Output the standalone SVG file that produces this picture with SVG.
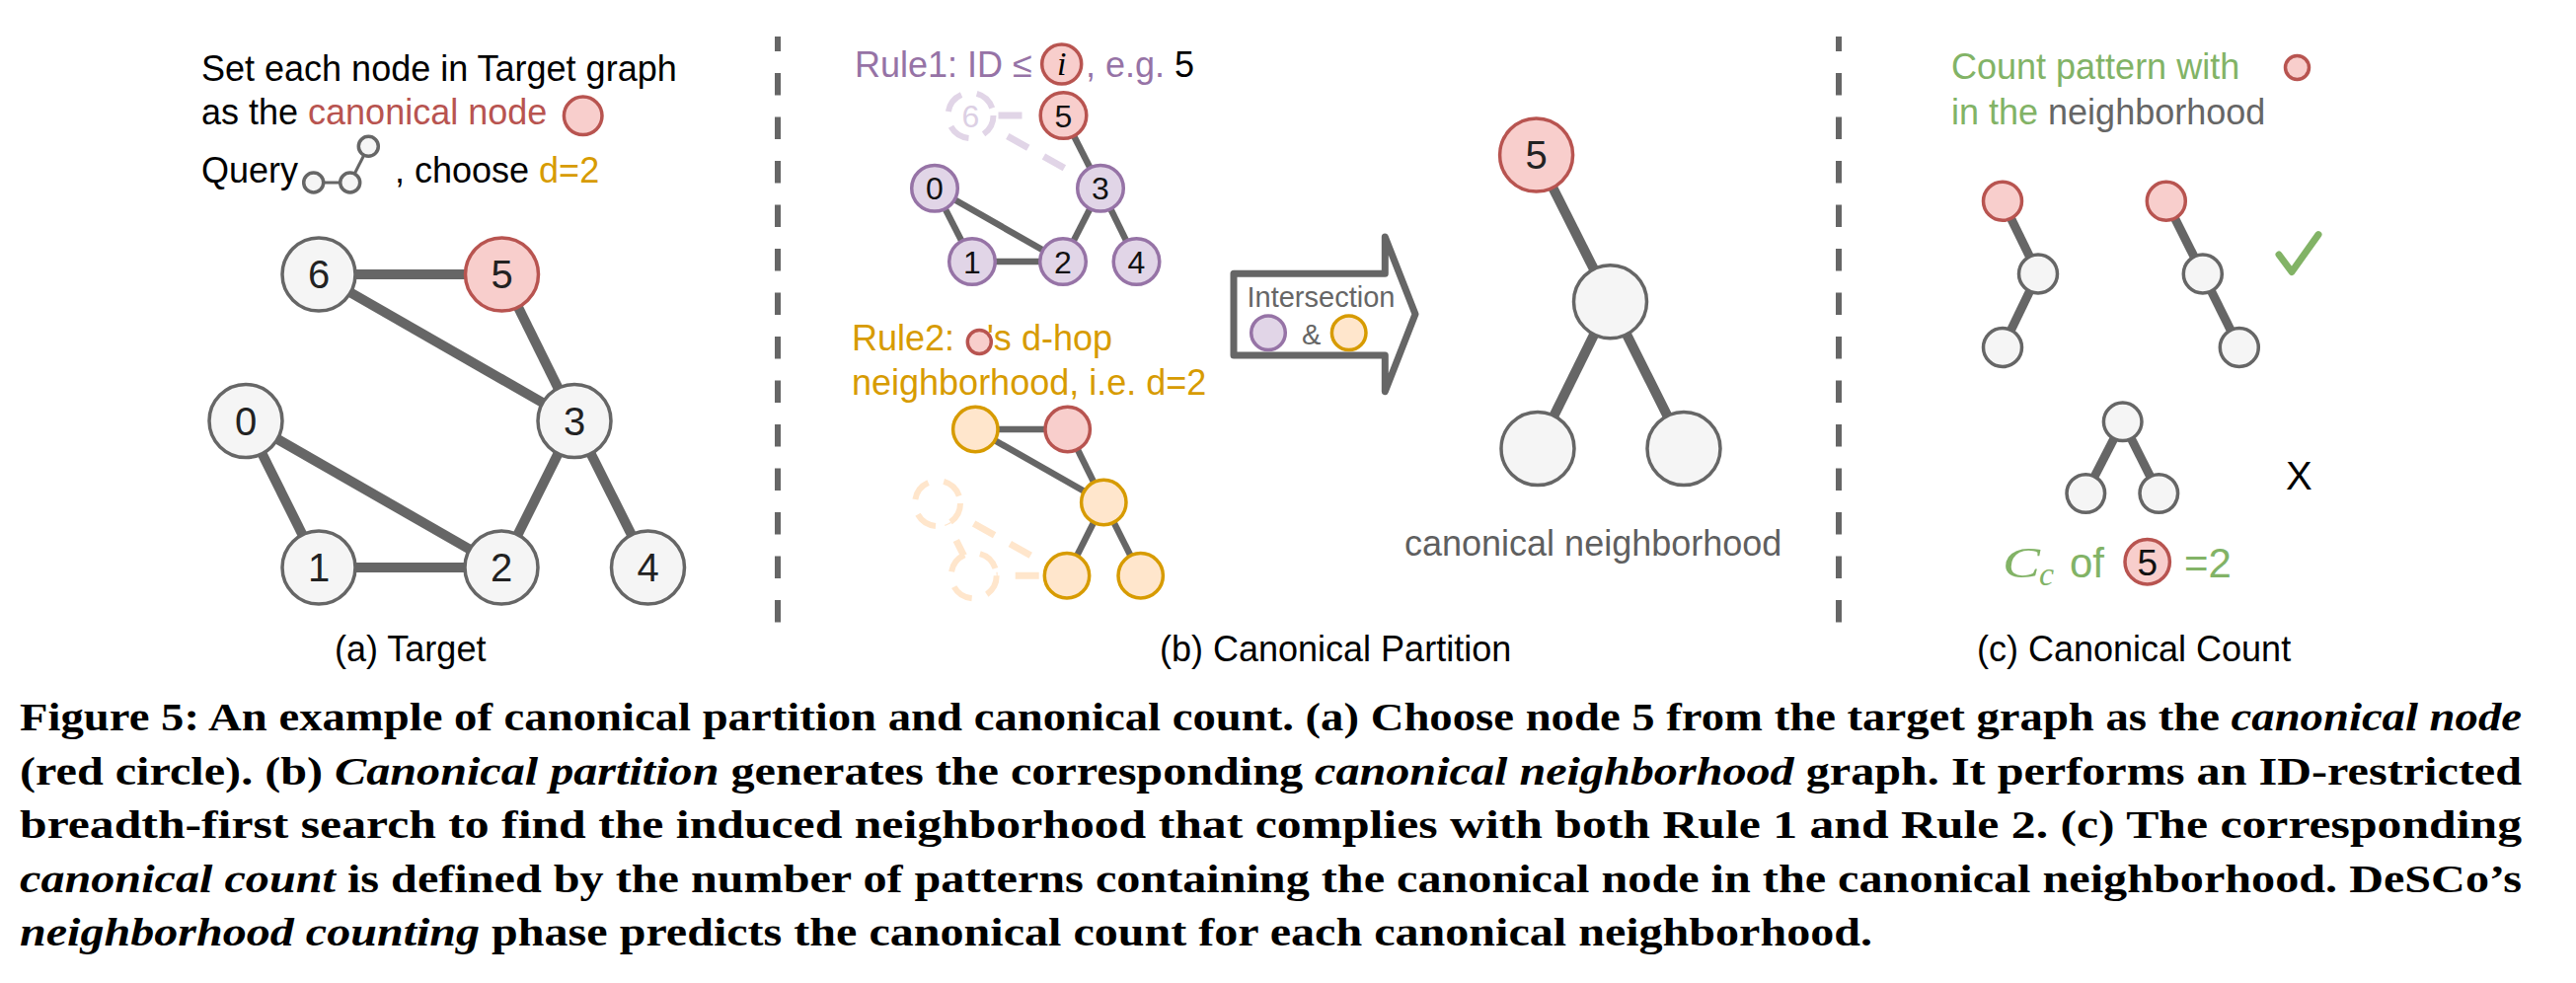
<svg xmlns="http://www.w3.org/2000/svg" width="2610" height="996" viewBox="0 0 2610 996">
<defs>
<style>
.sans{font-family:"Liberation Sans",Arial,sans-serif}
.serif{font-family:"Liberation Serif","Times New Roman",serif}
.t36{font-size:36px}
.ng{fill:#f5f5f5;stroke:#666;stroke-width:3.5}
.nr{fill:#f8cecc;stroke:#b85450;stroke-width:3.5}
.np{fill:#e1d5e7;stroke:#9673a6;stroke-width:3.5}
.no{fill:#ffe6cc;stroke:#d79b00;stroke-width:3.5}
.la{font-family:"Liberation Sans",Arial,sans-serif;font-size:40px;fill:#222;text-anchor:middle}
.lb{font-family:"Liberation Sans",Arial,sans-serif;font-size:32px;fill:#111;text-anchor:middle}
.sep{stroke:#666;stroke-width:6;stroke-dasharray:22.5 22;stroke-dashoffset:7.5}
.fp{stroke:#e1d5e7;stroke-width:7;stroke-dasharray:24 18;fill:none}
.fo{stroke:#ffe6cc;stroke-width:7;stroke-dasharray:24 18;fill:none}
.cap{font-family:"Liberation Serif","Times New Roman",serif;font-weight:bold;font-size:40px;fill:#000}
.it{font-style:italic}
.pur{fill:#9673a6}
.ora{fill:#d79b00}
.red{fill:#b85450}
.grn{fill:#82b366}
</style>
</defs>
<rect x="0" y="0" width="2610" height="996" fill="#fff"/>

<g id="separators">
<line class="sep" x1="788" y1="37" x2="788" y2="631"/>
<line class="sep" x1="1863" y1="37" x2="1863" y2="631"/>
</g>

<g id="connectors">
<g stroke="#666" stroke-width="10">
<line x1="323" y1="278" x2="508.5" y2="278"/>
<line x1="323" y1="278" x2="582" y2="426.5"/>
<line x1="508.5" y1="278" x2="582" y2="426.5"/>
<line x1="249" y1="426.5" x2="323" y2="575"/>
<line x1="249" y1="426.5" x2="508" y2="575"/>
<line x1="323" y1="575" x2="508" y2="575"/>
<line x1="582" y1="426.5" x2="508" y2="575"/>
<line x1="582" y1="426.5" x2="656.5" y2="575"/>
</g>
<g stroke="#666" stroke-width="3">
<line x1="317.7" y1="185" x2="354.7" y2="185"/>
<line x1="354.7" y1="185" x2="373.3" y2="148.3"/>
</g>
<line class="fp" x1="1077.5" y1="117" x2="983.5" y2="117"/>
<line class="fp" x1="1115" y1="190.8" x2="983.5" y2="117"/>
<g stroke="#666" stroke-width="6.5">
<line x1="1077.5" y1="117" x2="1115" y2="190.8"/>
<line x1="947" y1="190.8" x2="985" y2="265"/>
<line x1="947" y1="190.8" x2="1077" y2="265"/>
<line x1="985" y1="265" x2="1077" y2="265"/>
<line x1="1115" y1="190.8" x2="1077" y2="265"/>
<line x1="1115" y1="190.8" x2="1151.5" y2="265"/>
</g>
<line class="fo" x1="950" y1="510" x2="986.7" y2="583.3"/>
<line class="fo" x1="950" y1="510" x2="1081" y2="583.3"/>
<line class="fo" x1="986.7" y1="583.3" x2="1081" y2="583.3"/>
<g stroke="#666" stroke-width="6.5">
<line x1="988.3" y1="435" x2="1081.7" y2="435"/>
<line x1="988.3" y1="435" x2="1118.3" y2="509"/>
<line x1="1081.7" y1="435" x2="1118.3" y2="509"/>
<line x1="1118.3" y1="509" x2="1081" y2="583.3"/>
<line x1="1118.3" y1="509" x2="1155.7" y2="583.3"/>
</g>
<g stroke="#666" stroke-width="10">
<line x1="1556.6" y1="157" x2="1631.5" y2="305.7"/>
<line x1="1631.5" y1="305.7" x2="1558" y2="454.5"/>
<line x1="1631.5" y1="305.7" x2="1706" y2="454.5"/>
</g>
<g stroke="#666" stroke-width="9">
<line x1="2029" y1="203.8" x2="2065" y2="277.5"/>
<line x1="2065" y1="277.5" x2="2029" y2="352"/>
<line x1="2194.8" y1="203.8" x2="2231.8" y2="277.5"/>
<line x1="2231.8" y1="277.5" x2="2268.8" y2="352"/>
<line x1="2150.7" y1="427.3" x2="2113.3" y2="500"/>
<line x1="2150.7" y1="427.3" x2="2187.3" y2="500"/>
</g>
</g>

<g id="text-a" class="sans t36">
<text x="204" y="81.7" fill="#000">Set each node in Target graph</text>
<text x="204" y="126" fill="#000">as the <tspan class="red">canonical node</tspan></text>
<circle class="nr" cx="590.7" cy="117.3" r="19.3"/>
<text x="204" y="185" fill="#000">Query</text>
<text x="400" y="185" fill="#000">, choose <tspan class="ora">d=2</tspan></text>
</g>
<g id="query-icon">
<circle class="ng" stroke-width="3" cx="317.7" cy="185" r="10"/>
<circle class="ng" stroke-width="3" cx="354.7" cy="185" r="10"/>
<circle class="ng" stroke-width="3" cx="373.3" cy="148.3" r="10"/>
</g>

<g id="node-a6"><circle class="ng" cx="323" cy="278" r="37"/><text class="la" x="323" y="292.3">6</text></g>
<g id="node-a5"><circle class="nr" cx="508.5" cy="278" r="37"/><text class="la" x="508.5" y="292.3">5</text></g>
<g id="node-a0"><circle class="ng" cx="249" cy="426.5" r="37"/><text class="la" x="249" y="440.8">0</text></g>
<g id="node-a3"><circle class="ng" cx="582" cy="426.5" r="37"/><text class="la" x="582" y="440.8">3</text></g>
<g id="node-a1"><circle class="ng" cx="323" cy="575" r="37"/><text class="la" x="323" y="589.3">1</text></g>
<g id="node-a2"><circle class="ng" cx="508" cy="575" r="37"/><text class="la" x="508" y="589.3">2</text></g>
<g id="node-a4"><circle class="ng" cx="656.5" cy="575" r="37"/><text class="la" x="656.5" y="589.3">4</text></g>
<text class="sans t36" x="339" y="670" fill="#000">(a) Target</text>

<g id="rule1-text" class="sans t36">
<text x="866" y="77.5" class="pur">Rule1: ID ≤</text>
<circle class="nr" cx="1075.7" cy="65" r="20"/>
<text x="1075.7" y="76" class="serif it" font-size="34" fill="#000" text-anchor="middle">i</text>
<text x="1100" y="77.5"><tspan class="pur">, e.g. </tspan><tspan fill="#000">5</tspan></text>
</g>
<g id="node-b6">
<circle cx="983.5" cy="117" r="23" fill="#fff" stroke="#e1d5e7" stroke-width="6" stroke-dasharray="22 16"/>
<text class="lb" x="983.5" y="128.5" style="fill:#dcd0e4">6</text>
</g>
<g id="node-b5"><circle class="nr" cx="1077.5" cy="117" r="23.3"/><text class="lb" x="1077.5" y="128.5">5</text></g>
<g id="node-b0"><circle class="np" cx="947" cy="190.8" r="23.3"/><text class="lb" x="947" y="202.3">0</text></g>
<g id="node-b3"><circle class="np" cx="1115" cy="190.8" r="23.3"/><text class="lb" x="1115" y="202.3">3</text></g>
<g id="node-b1"><circle class="np" cx="985" cy="265" r="23.3"/><text class="lb" x="985" y="276.5">1</text></g>
<g id="node-b2"><circle class="np" cx="1077" cy="265" r="23.3"/><text class="lb" x="1077" y="276.5">2</text></g>
<g id="node-b4"><circle class="np" cx="1151.5" cy="265" r="23.3"/><text class="lb" x="1151.5" y="276.5">4</text></g>

<g id="rule2-text" class="sans t36">
<text x="863" y="355" class="ora">Rule2:</text>
<text x="1000" y="355" class="ora">'s d-hop</text>
<circle class="nr" cx="992.3" cy="346.5" r="12"/>
<text x="863" y="400" class="ora">neighborhood, i.e. d=2</text>
</g>
<g id="node-o0"><circle cx="950" cy="510" r="23" fill="#fff" stroke="#ffe6cc" stroke-width="6" stroke-dasharray="22 16"/></g>
<g id="node-o1"><circle cx="986.7" cy="583.3" r="23" fill="#fff" stroke="#ffe6cc" stroke-width="6" stroke-dasharray="22 16"/></g>
<g id="node-o6"><circle class="no" cx="988.3" cy="435" r="22.7"/></g>
<g id="node-o5"><circle class="nr" cx="1081.7" cy="435" r="22.7"/></g>
<g id="node-o3"><circle class="no" cx="1118.3" cy="509" r="22.7"/></g>
<g id="node-o2"><circle class="no" cx="1081" cy="583.3" r="22.7"/></g>
<g id="node-o4"><circle class="no" cx="1155.7" cy="583.3" r="22.7"/></g>

<g id="arrow-intersection">
<polygon points="1250,277.3 1403.3,277.3 1403.3,240 1434,318.3 1403.3,396.7 1403.3,360 1250,360" fill="#fff" stroke="#666" stroke-width="7" stroke-linejoin="round"/>
<text class="sans" x="1263.5" y="310.7" font-size="29" fill="#666">Intersection</text>
<circle class="np" cx="1285" cy="337.3" r="17.3"/>
<text class="sans" x="1319" y="348.5" font-size="29" fill="#666">&amp;</text>
<circle class="no" cx="1366.7" cy="337.3" r="17.3"/>
</g>
<text class="sans t36" x="1175" y="670" fill="#000">(b) Canonical Partition</text>

<g id="node-n5"><circle class="nr" cx="1556.6" cy="157" r="37"/><text class="la" x="1556.6" y="171.3">5</text></g>
<g id="node-nm"><circle class="ng" cx="1631.5" cy="305.7" r="37"/></g>
<g id="node-nl"><circle class="ng" cx="1558" cy="454.5" r="37"/></g>
<g id="node-nr"><circle class="ng" cx="1706" cy="454.5" r="37"/></g>
<text class="sans t36" x="1423" y="563" fill="#5f5f5f">canonical neighborhood</text>

<g id="text-c" class="sans t36">
<text x="1977" y="80" class="grn">Count pattern with</text>
<circle class="nr" cx="2327.5" cy="68.5" r="12"/>
<text x="1977" y="126"><tspan class="grn">in the </tspan><tspan fill="#666">neighborhood</tspan></text>
</g>
<g id="pattern1">
<circle class="nr" cx="2029" cy="203.8" r="19.5"/>
<circle class="ng" cx="2065" cy="277.5" r="19.5"/>
<circle class="ng" cx="2029" cy="352" r="19.5"/>
</g>
<g id="pattern2">
<circle class="nr" cx="2194.8" cy="203.8" r="19.5"/>
<circle class="ng" cx="2231.8" cy="277.5" r="19.5"/>
<circle class="ng" cx="2268.8" cy="352" r="19.5"/>
</g>
<path id="check" d="M2309,258 L2322,275.5 L2349,237.6" fill="none" stroke="#82b366" stroke-width="7" stroke-linecap="round" stroke-linejoin="round"/>
<g id="pattern3">
<circle class="ng" cx="2150.7" cy="427.3" r="19.3"/>
<circle class="ng" cx="2113.3" cy="500" r="19.3"/>
<circle class="ng" cx="2187.3" cy="500" r="19.3"/>
</g>
<text class="sans" x="2316" y="496" font-size="40" fill="#000">X</text>
<g id="cc-line">
<text class="serif it grn" x="2029" y="585" font-size="44" textLength="38" lengthAdjust="spacingAndGlyphs">C</text>
<text class="serif it grn" x="2066" y="593" font-size="34">c</text>
<text class="sans grn" x="2097" y="585" font-size="42">of</text>
<circle class="nr" cx="2175.7" cy="569.3" r="22.7"/>
<text class="sans" x="2175.7" y="582.5" font-size="37" fill="#111" text-anchor="middle">5</text>
<text class="sans grn" x="2213" y="585" font-size="42">=2</text>
</g>
<text class="sans t36" x="2003" y="670" fill="#000">(c) Canonical Count</text>

<g id="caption" class="cap">
<text x="20" y="740" textLength="2535" lengthAdjust="spacingAndGlyphs">Figure 5: An example of canonical partition and canonical count. (a) Choose node 5 from the target graph as the <tspan class="it">canonical node</tspan></text>
<text x="20" y="795" textLength="2535" lengthAdjust="spacingAndGlyphs">(red circle). (b) <tspan class="it">Canonical partition</tspan> generates the corresponding <tspan class="it">canonical neighborhood</tspan> graph. It performs an ID-restricted</text>
<text x="20" y="849" textLength="2535" lengthAdjust="spacingAndGlyphs">breadth-first search to find the induced neighborhood that complies with both Rule 1 and Rule 2. (c) The corresponding</text>
<text x="20" y="904" textLength="2535" lengthAdjust="spacingAndGlyphs"><tspan class="it">canonical count</tspan> is defined by the number of patterns containing the canonical node in the canonical neighborhood. DeSCo’s</text>
<text x="20" y="958" textLength="1877" lengthAdjust="spacingAndGlyphs"><tspan class="it">neighborhood counting</tspan> phase predicts the canonical count for each canonical neighborhood.</text>
</g>
</svg>
